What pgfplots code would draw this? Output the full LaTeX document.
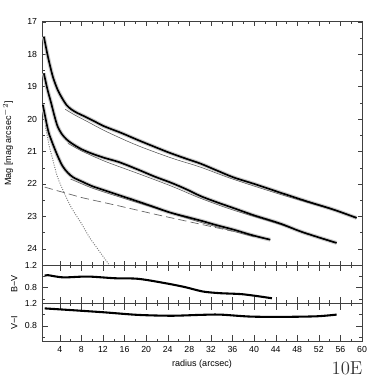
\documentclass[border=0pt]{standalone}
\usepackage{fontspec}
\setsansfont{Liberation Sans}
\usepackage{pgfplots}
\usepackage{pgfplotstable}
\pgfplotsset{compat=1.18}

% surface brightness profiles (radius in arcsec, mag/arcsec^2)
\pgfplotstableread{
r m
1.04 17.46
1.8 18.08
2.7 18.69
3.6 19.10
4.4 19.35
5.2 19.56
6.1 19.70
7.3 19.82
8.6 19.92
10.5 20.08
12.3 20.23
15.4 20.43
18.5 20.65
21 20.82
24 21.02
27 21.20
30 21.37
33 21.58
36.2 21.80
40 22.00
45.4 22.30
50 22.55
54.7 22.79
59 23.05
}\topprof
\pgfplotstableread{
r m
1.04 18.59
1.7 19.08
2.4 19.51
3.0 19.90
3.6 20.23
4.4 20.47
5.2 20.62
6.1 20.74
8 20.93
10 21.07
12.3 21.20
15 21.33
18.5 21.56
21.5 21.77
24.7 21.97
27.5 22.17
30 22.37
33 22.56
36.1 22.74
40 22.97
44.8 23.22
48.5 23.46
52 23.65
55.3 23.82
}\midprof
\pgfplotstableread{
r m
0.85 19.56
1.8 20.33
2.4 20.64
3.5 21.10
4.5 21.45
5.5 21.66
6.5 21.80
8 21.92
10 22.07
12.3 22.20
15 22.35
17.2 22.47
19.5 22.60
21.6 22.72
24 22.86
25.9 22.95
28 23.04
30.5 23.15
33 23.27
36.2 23.41
39 23.55
41 23.64
43 23.72
}\botprof
% colour profiles
\pgfplotstableread{
r c
1.2 1.01
1.8 1.02
3 1.00
4.9 0.98
9.2 0.995
14.2 0.965
18.5 0.955
23.4 0.88
27.1 0.81
30.5 0.73
33.7 0.70
38 0.68
43.3 0.61
}\bv
\pgfplotstableread{
r c
1.2 1.11
6.1 1.08
12.3 1.04
18.5 0.995
24.7 0.98
30 0.995
33.7 1.00
39.3 0.965
45.4 0.96
51.6 0.97
55.3 1.00
}\vi

\begin{document}
\begin{tikzpicture}
\pgfplotsset{
  panel/.style={width=230.4pt, scale only axis, xmin=0.7, xmax=60,
    xtick={4,8,...,60}, minor x tick num=1,
    axis line style={black!75}, tick style={black!75},
    major tick length=3pt, minor tick length=1.8pt,
    tick label style={font=\sffamily\fontsize{6.3}{7}\selectfont},
    /pgf/number format/assume math mode=true,
    label style={font=\sffamily\fontsize{6.5}{7.5}\selectfont},
    ylabel style={at={(rel axis cs:-0.087,0.5)}, anchor=center},
  },
  colpanel/.style={height=27.6pt, ymin=0.52, ymax=1.2, ytick={0.8,1.2},
    minor ytick={0.6,1.0}, major tick length=4.5pt, minor tick length=2.2pt},
  halo/.style={gray!40, line width=2.8pt, smooth},
  prof/.style={black, line width=1.2pt, smooth},
  fit/.style={black!65, line width=0.4pt, smooth},
}
\begin{axis}[panel, name=main, height=175.2pt, ymin=17, ymax=24.5, y dir=reverse,
  ytick={17,...,24}, minor y tick num=1, xticklabels={},
  ylabel={Mag [mag arcsec$^{-2}$]},
  ylabel style={at={(rel axis cs:-0.106,0.5)}}]
\addplot[halo] table {\topprof};
\addplot[halo] table {\midprof};
\addplot[halo] table {\botprof};
\addplot[fit] coordinates {(5,19.70)(6.7,19.87)(9,20.07)(12.3,20.36)(16.6,20.69)(20,20.92)(25,21.22)(30,21.48)(36,21.85)(45,22.33)(54,22.77)(59,23.03)};
\addplot[fit] coordinates {(5.5,20.75)(8,20.98)(12.3,21.3)(18.5,21.68)(24.7,22.07)(30,22.44)(36,22.8)(44.8,23.25)(55,23.82)};
\addplot[fit] coordinates {(6,21.85)(10,22.13)(15,22.4)(20,22.66)(25,22.92)(30,23.18)(35,23.41)(40,23.63)};
\addplot[black!60, line width=0.5pt, dash pattern=on 6pt off 3pt] coordinates {(1.2,22.1)(8,22.42)(15,22.68)(22,22.95)(30,23.24)(36,23.46)};
\addplot[black!50, line width=0.7pt, densely dotted, smooth] coordinates {(1.3,20.2)(2,20.8)(2.7,21.25)(3.5,21.75)(4.6,22.2)(6.1,22.72)(8,23.22)(9.5,23.65)(11,24.0)(12.3,24.3)(13.2,24.5)};
\addplot[prof] table {\topprof};
\addplot[prof] table {\midprof};
\addplot[prof] table {\botprof};
\end{axis}

\begin{axis}[panel, colpanel, name=bv, at={(main.south west)}, anchor=north west,
  xticklabels={}, ylabel={B−V}]
\addplot[black, line width=1.5pt, smooth] table {\bv};
\end{axis}

\begin{axis}[panel, colpanel, name=vi, at={(bv.south west)}, anchor=north west,
  ylabel={V−I}, xlabel={radius (arcsec)},
  xlabel style={at={(rel axis cs:0.5,0)}, anchor=center, yshift=-16pt}]
\addplot[black, line width=1.5pt, smooth] table {\vi};
\end{axis}

\node[font=\rmfamily\fontsize{13.5}{14}\selectfont, text=black!80] at ([shift={(219.6pt,-249.7pt)}]main.north west) {10E};

\pgfresetboundingbox
\path[use as bounding box] ([shift={(-30.24pt,15.6pt)}]main.north west) rectangle ++(275.04pt,-275.04pt);
\end{tikzpicture}
\end{document}
